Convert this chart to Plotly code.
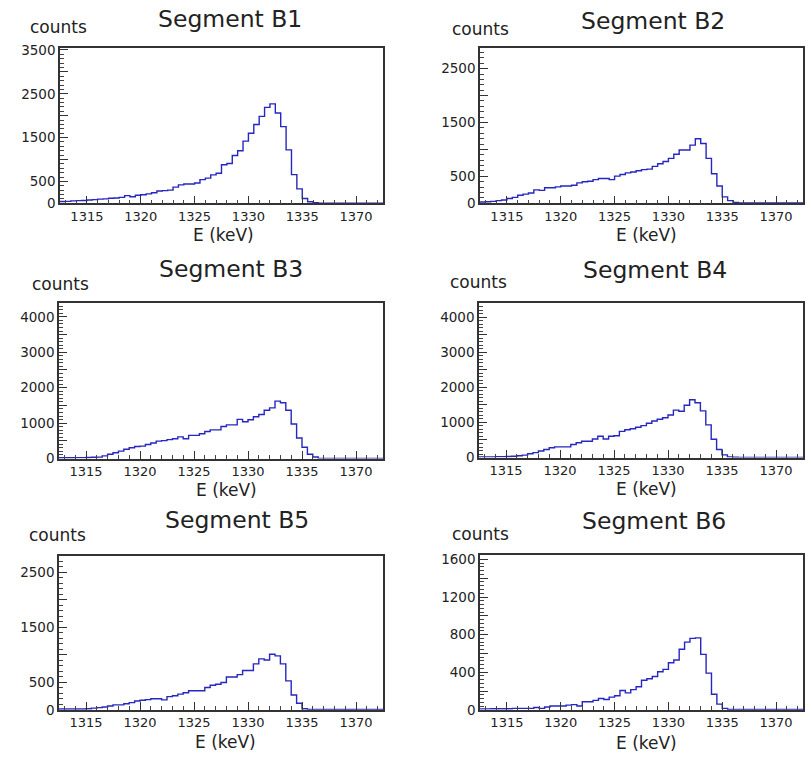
import plotly.graph_objects as go

# bin edges: 0.5 keV bins from 1312.5 to 1342.5
bin_width = 0.5
x_start = 1312.5
n_bins = 60

tail = [5] * 12

b1 = [40, 45, 55, 60, 65, 75, 85, 95, 100, 115, 120, 135, 175, 150, 185, 195,
      215, 240, 280, 290, 300, 370, 420, 440, 440, 465, 540, 575, 650, 685,
      880, 910, 1090, 1200, 1420, 1600, 1800, 1985, 2190, 2270, 2060, 1750,
      1220, 655, 330, 110, 35, 12] + tail
b2 = [25, 30, 35, 50, 60, 90, 110, 150, 170, 190, 250, 240, 290, 290, 305, 320,
      320, 335, 380, 400, 410, 440, 460, 460, 440, 505, 535, 565, 580, 605,
      625, 635, 685, 735, 775, 835, 910, 990, 990, 1080, 1200, 1110, 835, 550,
      320, 120, 50, 15] + tail
b3 = [20, 20, 20, 25, 25, 30, 35, 40, 75, 120, 165, 210, 260, 305, 340, 350,
      395, 440, 490, 505, 535, 560, 610, 560, 655, 655, 700, 765, 810, 810,
      905, 950, 950, 1105, 1040, 1095, 1180, 1245, 1365, 1430, 1620, 1575,
      1365, 975, 580, 320, 120, 45] + tail
b4 = [20, 20, 20, 25, 25, 30, 35, 50, 70, 110, 140, 185, 230, 280, 305, 305,
      305, 370, 420, 465, 465, 530, 605, 530, 605, 620, 745, 790, 820, 865,
      910, 975, 1040, 1090, 1135, 1210, 1350, 1320, 1490, 1645, 1560, 1330,
      930, 520, 230, 75, 20, 8] + tail
b5 = [15, 15, 15, 15, 15, 20, 30, 40, 50, 70, 90, 90, 110, 130, 160, 175,
      185, 200, 200, 180, 240, 255, 285, 310, 345, 345, 345, 405, 445, 465,
      495, 595, 595, 640, 715, 715, 835, 925, 905, 1010, 980, 835, 525, 270,
      120, 20, 8, 5] + tail
b6 = [10, 10, 12, 12, 12, 12, 15, 15, 15, 15, 25, 15, 30, 40, 40, 40,
      50, 55, 40, 85, 85, 100, 120, 110, 135, 150, 205, 180, 215, 245,
      315, 330, 355, 405, 430, 500, 530, 645, 720, 760, 765, 590, 390, 165,
      60, 15, 5, 5] + tail

titles = ["Segment B1", "Segment B2", "Segment B3", "Segment B4", "Segment B5", "Segment B6"]
series = [b1, b2, b3, b4, b5, b6]
y_max = [3540, 2880, 4380, 4390, 2800, 1650]
y_ticks = [
    ([0, 500, 1000, 1500, 2000, 2500, 3000, 3500], ["0", "500", "", "1500", "", "2500", "", "3500"], 100),
    ([0, 500, 1000, 1500, 2000, 2500], ["0", "500", "", "1500", "", "2500"], 100),
    ([0, 500, 1000, 1500, 2000, 2500, 3000, 3500, 4000], ["0", "", "1000", "", "2000", "", "3000", "", "4000"], 100),
    ([0, 500, 1000, 1500, 2000, 2500, 3000, 3500, 4000], ["0", "", "1000", "", "2000", "", "3000", "", "4000"], 100),
    ([0, 500, 1000, 1500, 2000, 2500], ["0", "500", "", "1500", "", "2500"], 100),
    ([0, 200, 400, 600, 800, 1000, 1200, 1400, 1600], ["0", "", "400", "", "800", "", "1200", "", "1600"], 40),
]

x_tickvals = [1315, 1320, 1325, 1330, 1335, 1340]
x_ticktext = ["1315", "1320", "1325", "1330", "1335", "1370"]

W, H = 810, 761
# plot rectangles in pixels: (x0, x1, y_top, y_bottom)
rects = [
    (60, 383, 43, 201), (480, 803, 43, 201),
    (59, 383, 303, 461), (479, 803, 303, 460),
    (59, 383, 560, 717), (480, 803, 559, 717),
]
# text positions in pixels: (title_cx, title_cy, counts_x, counts_cy, xlabel_cx, xlabel_cy)
text_pos = [
    (230, 13, 30, 21, 224, 233),
    (653, 15, 452, 23, 646, 233),
    (231, 268, 32, 283, 226, 493),
    (655, 269, 450, 281, 646, 492),
    (237, 524, 29, 539, 225, 750),
    (654, 525, 452, 538, 646, 751),
]

FONT = "DejaVu Sans"
TXT = "#222222"
LINE = "#2626c0"

fig = go.Figure()
annotations = []
for k in range(6):
    vals = series[k]
    yt, ytt, minor_dy = y_ticks[k]
    xs = [x_start + i * bin_width for i in range(n_bins)] + [x_start + n_bins * bin_width]
    ys = list(vals) + [vals[-1]]
    xa = "x" if k == 0 else f"x{k+1}"
    ya = "y" if k == 0 else f"y{k+1}"
    fig.add_trace(go.Scatter(x=xs, y=ys, mode="lines", line=dict(color=LINE, width=1.4, shape="hv"),
                             xaxis=xa, yaxis=ya, showlegend=False, hoverinfo="skip"))
    x0, x1, t, b = rects[k]
    xd = [x0 / W, x1 / W]
    yd = [1 - b / H, 1 - t / H]
    xkey = "xaxis" if k == 0 else f"xaxis{k+1}"
    ykey = "yaxis" if k == 0 else f"yaxis{k+1}"
    fig.layout[xkey] = dict(
        domain=xd, range=[1312.5, 1342.5], anchor=ya,
        tickvals=x_tickvals, ticktext=x_ticktext, ticks="inside", ticklen=8,
        tickwidth=1, tickcolor="#333333",
        minor=dict(dtick=1, tick0=1312, ticks="inside", ticklen=4, tickcolor="#444444"),
        showgrid=False, zeroline=False, showline=True, linecolor="#333333", linewidth=1.6,
        mirror=True, tickfont=dict(family=FONT, size=13, color=TXT), fixedrange=True,
    )
    fig.layout[ykey] = dict(
        domain=yd, range=[0, y_max[k]], anchor=xa,
        tickvals=yt, ticktext=ytt, ticks="inside", ticklen=8, tickwidth=1,
        tickcolor="#333333",
        minor=dict(dtick=minor_dy, tick0=0, ticks="inside", ticklen=4, tickcolor="#444444"),
        showgrid=False, zeroline=False, showline=True, linecolor="#333333", linewidth=1.6,
        mirror=True, tickfont=dict(family=FONT, size=13.5, color=TXT), fixedrange=True,
    )
    tcx, tcy, cxp, ccy, lcx, lcy = text_pos[k]
    annotations.append(dict(text=titles[k], x=tcx / W, y=1 - tcy / H, xref="paper", yref="paper",
                            showarrow=False, font=dict(family=FONT, size=23.5, color=TXT),
                            xanchor="center", yanchor="middle"))
    annotations.append(dict(text="counts", x=cxp / W, y=1 - ccy / H, xref="paper", yref="paper",
                            showarrow=False, font=dict(family=FONT, size=17, color=TXT),
                            xanchor="left", yanchor="middle", xshift=-2))
    annotations.append(dict(text="E (keV)", x=lcx / W, y=1 - lcy / H, xref="paper", yref="paper",
                            showarrow=False, font=dict(family=FONT, size=17, color=TXT),
                            xanchor="center", yanchor="middle"))

fig.update_layout(width=W, height=H, margin=dict(l=0, r=0, t=0, b=0),
                  paper_bgcolor="white", plot_bgcolor="white", annotations=annotations)
fig.write_html("out.html")
